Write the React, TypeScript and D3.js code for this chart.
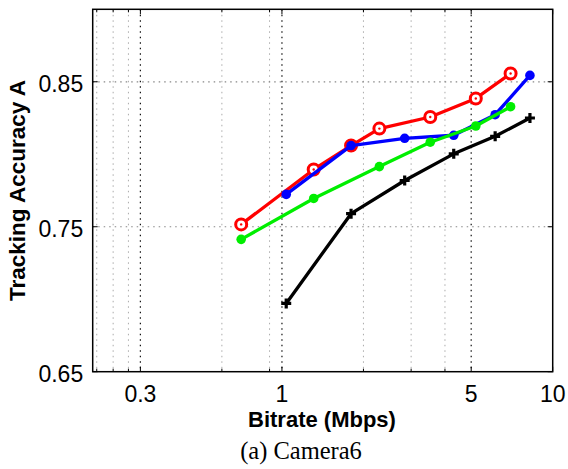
import React, { useEffect, useRef } from 'react';
import * as d3 from 'd3';

// bitrate (Mbps) values for each curve
const bitrateA = [0.707, 1.31, 1.80, 2.29, 3.53, 5.20, 6.99];
const bitrateB = [1.037, 1.80, 2.84, 4.31, 6.13, 8.24];
const bitrateC = [0.707, 1.31, 2.29, 3.53, 5.20, 6.99];

// tracking accuracy
const redAcc = [0.7516, 0.7895, 0.806, 0.8177, 0.8257, 0.8385, 0.8557];
const blueAcc = [0.7723, 0.806, 0.811, 0.8131, 0.8273, 0.8544];
const greenAcc = [0.7413, 0.7695, 0.7915, 0.8083, 0.8195, 0.8328];
const blackAcc = [0.6971, 0.759, 0.7819, 0.8003, 0.8124, 0.825];

const xTicks = [0.3, 1, 5, 10];
const xMinorGrid = [0.207, 0.238, 0.271, 0.6, 0.9, 2, 3, 4];
const yTicks = [0.65, 0.75, 0.85];

const App = () => {
  const svgRef = useRef<SVGSVGElement>(null);

  useEffect(() => {
    const W = 568, H = 469;
    const left = 92.7, right = 552.7, top = 9.3, bottom = 371.7;

    const svg = d3.select(svgRef.current);
    svg.selectAll('*').remove();
    svg.attr('width', W).attr('height', H);

    const x = d3.scaleLog().domain([0.2, 10]).range([left, right]);
    const y = d3.scaleLinear().domain([0.65, 0.9]).range([bottom, top]);

    svg.append('rect').attr('width', W).attr('height', H).attr('fill', '#fff');

    // grid
    const g = svg.append('g');
    g.selectAll('.minor')
      .data(xMinorGrid)
      .enter()
      .append('line')
      .attr('x1', d => x(d)).attr('x2', d => x(d))
      .attr('y1', top).attr('y2', bottom)
      .attr('stroke', '#aaa')
      .attr('stroke-width', 1)
      .attr('stroke-dasharray', '1.5,4');
    g.selectAll('.major')
      .data(xTicks.filter(d => d < 10))
      .enter()
      .append('line')
      .attr('x1', d => x(d)).attr('x2', d => x(d))
      .attr('y1', top).attr('y2', bottom)
      .attr('stroke', '#111')
      .attr('stroke-width', 1.2)
      .attr('stroke-dasharray', '1.5,4');
    g.selectAll('.hgrid')
      .data(yTicks.slice(1))
      .enter()
      .append('line')
      .attr('x1', left).attr('x2', right)
      .attr('y1', d => y(d)).attr('y2', d => y(d))
      .attr('stroke', '#888')
      .attr('stroke-width', 1.2)
      .attr('stroke-dasharray', '1.5,4');

    // tick marks
    const tk = svg.append('g').attr('stroke', '#000').attr('stroke-width', 1);
    [...xMinorGrid, ...xTicks].forEach(v => {
      const len = xTicks.includes(v) ? 5 : 3;
      tk.append('line').attr('x1', x(v)).attr('x2', x(v)).attr('y1', bottom).attr('y2', bottom - len);
      tk.append('line').attr('x1', x(v)).attr('x2', x(v)).attr('y1', top).attr('y2', top + len);
    });
    yTicks.forEach(v => {
      tk.append('line').attr('x1', left).attr('x2', left + 5).attr('y1', y(v)).attr('y2', y(v));
      tk.append('line').attr('x1', right).attr('x2', right - 5).attr('y1', y(v)).attr('y2', y(v));
    });

    // series
    const series = [
      { xs: bitrateA, ys: redAcc, color: '#ff0000', marker: 'circle' },
      { xs: bitrateB, ys: blueAcc, color: '#0000ff', marker: 'dot' },
      { xs: bitrateC, ys: greenAcc, color: '#00ee00', marker: 'dot' },
      { xs: bitrateB, ys: blackAcc, color: '#000000', marker: 'plus' },
    ];
    const line = d3.line<[number, number]>().x(d => x(d[0])).y(d => y(d[1]));

    series.forEach(s => {
      const pts: [number, number][] = s.xs.map((v, i) => [v, s.ys[i]]);
      svg.append('path')
        .attr('d', line(pts))
        .attr('fill', 'none')
        .attr('stroke', s.color)
        .attr('stroke-width', 3.3)
        .attr('stroke-linejoin', 'round');
      pts.forEach(p => {
        const cx = x(p[0]), cy = y(p[1]);
        if (s.marker === 'circle') {
          svg.append('circle').attr('cx', cx).attr('cy', cy).attr('r', 5.5)
            .attr('fill', '#fff').attr('stroke', s.color).attr('stroke-width', 3);
          svg.append('circle').attr('cx', cx).attr('cy', cy).attr('r', 1.2).attr('fill', s.color);
        } else if (s.marker === 'dot') {
          svg.append('circle').attr('cx', cx).attr('cy', cy).attr('r', 4.8).attr('fill', s.color);
        } else {
          svg.append('path')
            .attr('d', `M${cx - 5},${cy}H${cx + 5}M${cx},${cy - 5}V${cy + 5}`)
            .attr('stroke', s.color).attr('stroke-width', 3.2);
        }
      });
    });

    // frame
    svg.append('rect')
      .attr('x', left).attr('y', top)
      .attr('width', right - left).attr('height', bottom - top)
      .attr('fill', 'none').attr('stroke', '#000').attr('stroke-width', 1.5);

    // tick labels
    const font = '"Liberation Sans", Arial, sans-serif';
    svg.selectAll('.xl')
      .data(xTicks)
      .enter()
      .append('text')
      .attr('x', d => x(d))
      .attr('y', bottom + 30)
      .attr('text-anchor', 'middle')
      .style('font-family', font)
      .style('font-size', '23px')
      .text(d => String(d));
    svg.selectAll('.yl')
      .data(yTicks)
      .enter()
      .append('text')
      .attr('x', left - 9.5)
      .attr('y', d => y(d) + 10)
      .attr('text-anchor', 'end')
      .style('font-family', font)
      .style('font-size', '23px')
      .text(d => d.toFixed(2));

    svg.append('text')
      .attr('x', 322)
      .attr('y', 427)
      .attr('text-anchor', 'middle')
      .style('font-family', font)
      .style('font-size', '22px')
      .style('font-weight', 'bold')
      .text('Bitrate (Mbps)');

    svg.append('text')
      .attr('transform', `translate(25,${(top + bottom) / 2}) rotate(-90)`)
      .attr('text-anchor', 'middle')
      .style('font-family', font)
      .style('font-size', '22.5px')
      .style('font-weight', 'bold')
      .text('Tracking Accuracy A');

    svg.append('text')
      .attr('x', 301)
      .attr('y', 459)
      .attr('text-anchor', 'middle')
      .style('font-family', '"Liberation Serif", "Times New Roman", serif')
      .style('font-size', '24.5px')
      .text('(a) Camera6');
  }, []);

  return (
    <div>
      <svg ref={svgRef} style={{ position: 'absolute', left: 0, top: 0 }}></svg>
    </div>
  );
};

export default App;
